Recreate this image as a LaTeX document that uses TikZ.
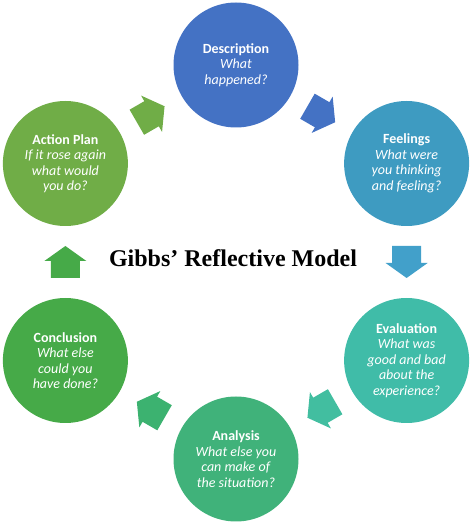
\documentclass[tikz,border=0pt]{standalone}
\usepackage{fontspec}
\setmainfont{Carlito}
\newfontfamily\titlefont{Liberation Serif}
\usetikzlibrary{calc}

\definecolor{descblue}{RGB}{68,114,196}
\definecolor{feelblue}{RGB}{62,155,193}
\definecolor{feelarrow}{RGB}{66,160,202}
\definecolor{evalteal}{RGB}{64,188,168}
\definecolor{evalarrow}{RGB}{66,190,160}
\definecolor{analgreen}{RGB}{64,178,122}
\definecolor{analarrow}{RGB}{60,178,112}
\definecolor{conclgreen}{RGB}{70,170,72}
\definecolor{actiongreen}{RGB}{112,173,71}

\begin{document}
\begin{tikzpicture}[x=1pt, y=1pt, line join=round,
    stage/.style={circle, minimum size=125pt, inner sep=0pt, align=center,
      text=white, font=\fontsize{14}{15.5}\selectfont}]

    % 枠
    \useasboundingbox (0,0) rectangle (470,528);

    % パラメータの定義
    \pgfmathsetmacro{\R}{197} % 六角形の半径
    \coordinate (M) at (236,266);

    % 円（各段階）
    \node[stage, fill=descblue] (desc) at ($(M)+(90:\R)$)
      {\textbf{Description}\\\textit{What}\\\textit{happened?}};
    \node[stage, fill=feelblue] (feel) at ($(M)+(30:\R)$)
      {\textbf{Feelings}\\\textit{What were}\\\textit{you thinking}\\\textit{and feeling?}};
    \node[stage, fill=evalteal] (eval) at ($(M)+(-30:\R)$)
      {\textbf{Evaluation}\\\textit{What was}\\\textit{good and bad}\\\textit{about the}\\\textit{experience?}};
    \node[stage, fill=analgreen] (anal) at ($(M)+(-90:\R)$)
      {\textbf{Analysis}\\\textit{What else you}\\\textit{can make of}\\\textit{the situation?}};
    \node[stage, fill=conclgreen] (concl) at ($(M)+(-150:\R)$)
      {\textbf{Conclusion}\\\textit{What else}\\\textit{could you}\\\textit{have done?}};
    \node[stage, fill=actiongreen] (action) at ($(M)+(150:\R)$)
      {\textbf{Action Plan}\\\textit{If it rose again}\\\textit{what would}\\\textit{you do?}};

    % 矢印（中点に置く）
    \foreach \a/\b/\ang/\col in {desc/feel/-30/descblue, feel/eval/-90/feelarrow,
        eval/anal/-150/evalarrow, anal/concl/150/analarrow,
        concl/action/90/conclgreen, action/desc/30/actiongreen}
      \fill[\col, shift={($(\a)!0.5!(\b)$)}, rotate=\ang]
        (-16,-14.5) -- (1,-14.5) -- (1,-21) -- (16,0) -- (1,21) -- (1,14.5)
        -- (-16,14.5) -- cycle;

    % タイトル
    \node[font=\titlefont\bfseries\fontsize{24}{27}\selectfont] (title)
      at (233,270) {Gibbs’ Reflective Model};

\end{tikzpicture}
\end{document}
